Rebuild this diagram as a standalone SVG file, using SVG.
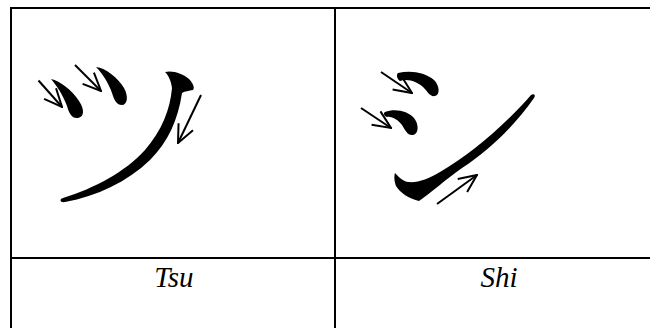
<svg xmlns="http://www.w3.org/2000/svg" width="650" height="328" viewBox="0 0 650 328">
<style>
.grid{stroke:#000;stroke-width:2;fill:none}
.stroke{fill:#000;stroke:none}
.arr{stroke:#000;stroke-width:2;fill:none;marker-end:url(#head)}
.lbl{font-family:"Liberation Serif","Times New Roman",serif;font-style:italic;font-size:29px;fill:#000;text-anchor:middle}
</style>
<defs>
<marker id="head" markerUnits="userSpaceOnUse" viewBox="0 0 20 20" refX="19" refY="10" markerWidth="20" markerHeight="20" orient="auto">
<path d="M1,2 L19,10 L1,18" fill="none" stroke="#000" stroke-width="2"/>
</marker>
</defs>
<rect width="650" height="328" fill="#fff"/>
<g id="table">
<line class="grid" x1="10" y1="8" x2="650" y2="8"/>
<line class="grid" x1="11" y1="7" x2="11" y2="328"/>
<line class="grid" x1="335" y1="8" x2="335" y2="328"/>
<line class="grid" x1="11" y1="258" x2="650" y2="258"/>
</g>
<g id="tsu">
<path class="stroke" d="M51,79 C60,81 72,90 79,101 C85,110 84,117 78,118 C72,119 69,113 67,106 C63,95 57,86 51,79 Z"/>
<path class="stroke" d="M96,67 C106,68 118,78 124,88 C129,97 127,105 122,105 C116,105 114,99 112,93 C109,84 103,74 96,67 Z"/>
<path class="stroke" d="M165,72 C173,70 183,74 189,79 C193,83 195,88 193,90 C189,91 185,91 182,93 C178,120 168,142 150,160 C127,182 97,196 65,202 C60,203 59,199 63,198 C95,188 125,172 145,150 C162,130 170,110 172,88 C171,81 169,76 165,72 Z"/>
</g>
<g id="shi">
<path class="stroke" d="M398,73 C410,70 425,72 434,80 C440,86 440,95 435,96 C430,97 428,92 424,88 C418,82 408,78 400,81 C397,79 396,75 398,73 Z"/>
<path class="stroke" d="M385,112 C395,108 408,111 414,118 C419,124 419,134 413,135 C408,136 405,130 402,125 C398,120 392,116 387,117 C384,116 383,113 385,112 Z"/>
<path class="stroke" d="M395,173 C398,176 402,181 408,182 C418,183 428,179 440,172 C470,155 505,125 531,95 C534,93 536,95 534,98 C515,125 490,150 462,168 C445,180 432,192 419,201 C410,199 400,193 396,186 C394,181 394,176 395,173 Z"/>
</g>
<g id="connectors">
<line class="arr" x1="38.5" y1="80.5" x2="62" y2="107"/>
<line class="arr" x1="75" y1="65" x2="101" y2="91"/>
<line class="arr" x1="201" y1="95" x2="178" y2="143"/>
<line class="arr" x1="381" y1="72" x2="412" y2="93"/>
<line class="arr" x1="361" y1="108" x2="391" y2="128"/>
<line class="arr" x1="437" y1="204" x2="477" y2="175"/>
</g>
<g id="labels">
<text class="lbl" x="174" y="287">Tsu</text>
<text class="lbl" x="499" y="287">Shi</text>
</g>
</svg>
